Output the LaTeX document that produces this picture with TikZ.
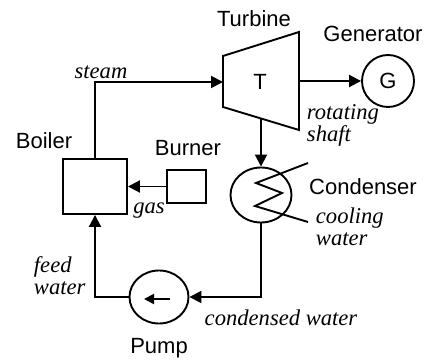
\documentclass[tikz,border=0pt]{standalone}
\usepackage{fontspec}
\setmainfont{Liberation Serif}
\setsansfont{Liberation Sans}
\usetikzlibrary{arrows.meta,shapes.geometric}

\begin{document}
\begin{tikzpicture}[x=0.5pt,y=-0.5pt,line width=0.95pt,
	flow/.style={-{Triangle[length=6pt,width=6pt]}},
	part/.style={font=\sffamily\fontsize{11}{13}\selectfont},
	note/.style={font=\itshape\fontsize{11.3}{11}\selectfont,align=left,inner sep=0pt},
	vessel/.style={draw,ellipse,inner sep=0pt,part}]
	\useasboundingbox (0,0) rectangle (432,362);
	% components
	\node[draw,minimum width=32pt,minimum height=27.5pt] (boiler) at (95,186.5) {};
	\node[draw,minimum width=19.5pt,minimum height=16.5pt] (burner) at (186.5,186.5) {};
	\draw (223,56) -- (299,32) -- (299,130) -- (223,107) -- cycle;
	\node[part] (turb) at (260,82) {T};
	\node[vessel,minimum width=26pt,minimum height=26pt] (gen) at (388,81) {G};
	\node[vessel,minimum width=30.5pt,minimum height=27.5pt] (cond) at (261,195) {};
	\node[vessel,minimum width=29.5pt,minimum height=26.5pt] (pump) at (159,297) {};
	\draw (308,163) -- (256,183) -- (282,193) -- (255,206) -- (308,222);
	\draw[-{Triangle[length=5pt,width=5pt]}] (170,299) -- (144,299);
	% titles
	\node[part] at (44,141) {Boiler};
	\node[part] at (188,148) {Burner};
	\node[part] at (254,19) {Turbine};
	\node[part] at (373,34) {Generator};
	\node[part] at (363,187) {Condenser};
	\node[part] at (159,348) {Pump};
	% flow labels
	\node[note] at (101,72) {steam};
	\node[note,anchor=west] at (306,125) {rotating\\shaft};
	\node[note] at (149,211) {gas};
	\node[note,anchor=west] at (315,227) {cooling\\water};
	\node[note,anchor=west] at (33,276) {feed\\water};
	\node[note] at (281,318) {condensed water};
	% pipes
	\coordinate (tin) at (223,82);
	\coordinate (tout) at (299,81);
	\coordinate (tbot) at (261,119);
	\draw[flow] (boiler.north) |- (tin);
	\draw[flow] (tout) -- (gen.west);
	\draw[flow] (tbot) -- (cond.north);
	\draw[flow] (cond.south) |- (pump.east);
	\draw[flow] (pump.west) -| (boiler.south);
	\draw[flow] (burner.west) -- (boiler.east);
\end{tikzpicture}
\end{document}
